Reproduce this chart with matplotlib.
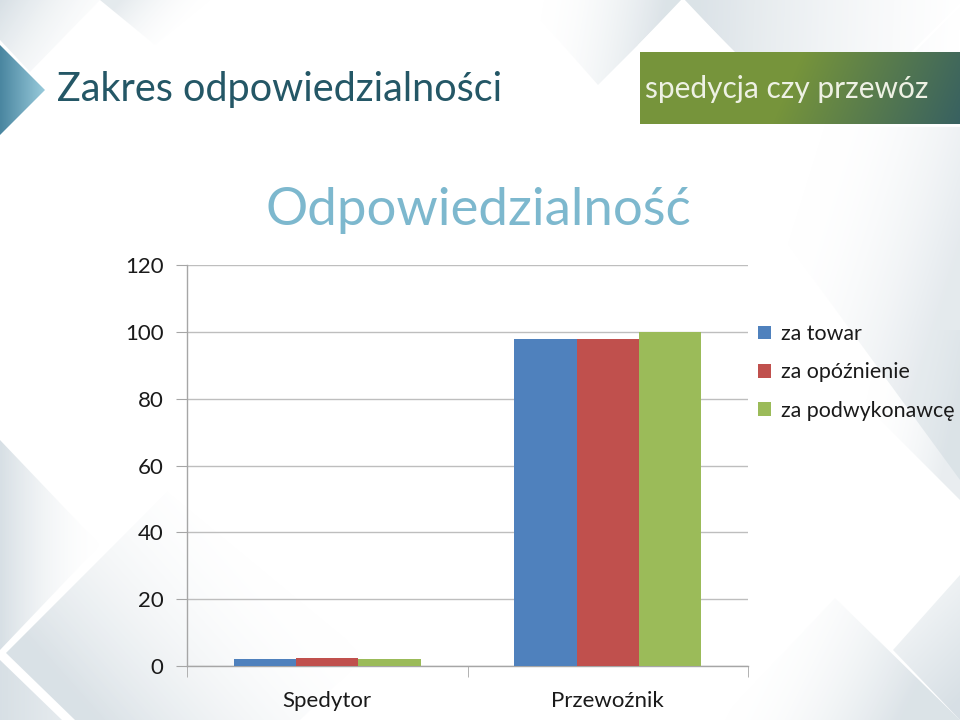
import numpy as np
import matplotlib
matplotlib.use('Agg')
import matplotlib.pyplot as plt
from matplotlib.patches import Polygon, Rectangle
from matplotlib.colors import to_rgba

# ---- data ----
categories = ['Spedytor', 'Przewoźnik']
series_names = ['za towar', 'za opóźnienie', 'za podwykonawcę']
za_towar = [2, 98]
za_opoznienie = [2.5, 98]
za_podwykonawce = [2, 100]
y_ticks = [0, 20, 40, 60, 80, 100, 120]
colors = ['#4F81BD', '#C0504D', '#9BBB59']

fig = plt.figure(figsize=(9.6, 7.2), dpi=100)
fig.patch.set_facecolor('white')
bg = fig.add_axes([0, 0, 1, 1])
bg.set_xlim(0, 960)
bg.set_ylim(720, 0)
bg.axis('off')


def grad_poly(verts, c0, c1, p0, p1, z=0):
    verts = np.asarray(verts, dtype=float)
    xmin, ymin = verts.min(axis=0)
    xmax, ymax = verts.max(axis=0)
    nx = max(int(xmax - xmin), 2)
    ny = max(int(ymax - ymin), 2)
    X, Y = np.meshgrid(np.linspace(xmin, xmax, nx), np.linspace(ymin, ymax, ny))
    dx, dy = p1[0] - p0[0], p1[1] - p0[1]
    t = ((X - p0[0]) * dx + (Y - p0[1]) * dy) / (dx * dx + dy * dy)
    t = np.clip(t, 0, 1)[..., None]
    a = np.array(to_rgba(c0[0], c0[1]))
    b = np.array(to_rgba(c1[0], c1[1]))
    img = a * (1 - t) + b * t
    im = bg.imshow(img, extent=[xmin, xmax, ymax, ymin], origin='upper',
                   interpolation='bilinear', zorder=z, aspect='auto')
    poly = Polygon(verts, closed=True, facecolor='none', edgecolor='none',
                   transform=bg.transData)
    bg.add_patch(poly)
    im.set_clip_path(poly)


G = '#D3DCE2'
W = '#FFFFFF'
# background shapes
grad_poly([(0, 0), (100, 0), (30, 72), (0, 40)], (G, 0.9), (W, 0.2), (0, 0), (90, 60))
grad_poly([(100, 0), (210, 0), (155, 45)], (G, 0.6), (W, 0.1), (120, 0), (170, 45))
grad_poly([(523, 0), (683, 0), (598, 85)], (W, 0.1), (G, 0.8), (540, 20), (660, 40))
grad_poly([(683, 0), (960, 0), (960, 52), (735, 52)], (G, 0.8), (W, 0.4), (700, 20), (960, 30))
grad_poly([(700, 124), (960, 124), (960, 480)], (W, 0.0), (G, 0.6), (800, 200), (960, 250))
grad_poly([(790, 330), (960, 330), (960, 500)], (W, 0.0), (G, 0.5), (870, 380), (960, 400))
grad_poly([(0, 440), (100, 545), (0, 650)], (G, 0.9), (W, 0.1), (0, 545), (100, 545))
grad_poly([(5, 652), (167, 490), (367, 655), (300, 720), (75, 720)], (G, 0.85), (W, 0.0),
          (80, 700), (260, 540))
grad_poly([(0, 660), (62, 720), (0, 720)], (G, 0.9), (G, 0.6), (0, 700), (60, 700))
grad_poly([(720, 720), (835, 598), (960, 720)], (W, 0.1), (G, 0.8), (760, 650), (900, 720))
grad_poly([(893, 650), (960, 575), (960, 720)], (G, 0.4), (G, 0.9), (900, 640), (960, 700))
for (x0, y0, x1, y1) in [(683, 0, 640, 45), (683, 0, 735, 55), (960, 5, 910, 55),
                         (5, 652, 167, 490), (167, 490, 367, 655)]:
    bg.plot([x0, x1], [y0, y1], color='white', lw=2, zorder=1)

# left accent triangle
grad_poly([(0, 45), (45, 90), (0, 135)], ('#4A86A0', 1), ('#98CADB', 1), (0, 90), (45, 90), z=2)

# green header box
grad_poly([(640, 52), (960, 52), (960, 124), (640, 124)], ('#76943B', 1), ('#2C5768', 1),
          (800, 60), (990, 140), z=2)
bg.plot([640, 960], [125, 125], color='white', lw=2, zorder=2)

bg.text(57, 90, 'Zakres odpowiedzialności', fontsize=28.5, color='#245766',
        va='center', ha='left', family='Lato', zorder=3)
bg.text(645, 89, 'spedycja czy przewóz', fontsize=21.5, color='#EEF1E4',
        va='center', ha='left', family='Lato', zorder=3)
bg.text(478, 210, 'Odpowiedzialność', fontsize=38, color='#7DB8CE',
        va='center', ha='center', family='Lato', zorder=3)

bg.set_xlim(0, 960)
bg.set_ylim(720, 0)

# ---- chart ----
ax = fig.add_axes([187 / 960, 54 / 720, 561 / 960, 401 / 720])
ax.patch.set_alpha(0)
x = np.arange(len(categories))
w = 0.222
series = [za_towar, za_opoznienie, za_podwykonawce]
handles = []
for i, vals in enumerate(series):
    ax.bar(x + (i - 1) * w, vals, w, color=colors[i], zorder=3, label=series_names[i])
    handles.append(Rectangle((0, 0), 1, 1, facecolor=colors[i]))

ax.set_xlim(-0.5, 1.5)
ax.set_ylim(0, 120)
ax.set_yticks(y_ticks)
ax.set_yticklabels([str(v) for v in y_ticks])
ax.yaxis.grid(True, color='#BEBEBE', lw=1, zorder=0)
ax.set_axisbelow(True)
for s in ['top', 'right']:
    ax.spines[s].set_visible(False)
for s in ['left', 'bottom']:
    ax.spines[s].set_color('#A6A6A6')
    ax.spines[s].set_linewidth(1)
ax.tick_params(axis='y', length=8, color='#A6A6A6', labelsize=16, pad=9,
               labelcolor='#1A1A1A')
ax.set_xticks(x)
ax.set_xticklabels(categories)
ax.set_xticks([-0.5, 0.5, 1.5], minor=True)
ax.tick_params(axis='x', which='major', length=0, labelsize=16, pad=18, labelcolor='#1A1A1A')
ax.tick_params(axis='x', which='minor', length=8, color='#A6A6A6')
for lab in ax.get_xticklabels() + ax.get_yticklabels():
    lab.set_family('Lato')

leg = fig.legend(handles, series_names, loc='upper left',
                 bbox_to_anchor=(758 / 960, 1 - 324 / 720), frameon=False,
                 prop={'family': 'Lato', 'size': 15.4}, handlelength=0.62, handleheight=0.62,
                 handletextpad=0.45, labelspacing=0.86, borderpad=0, borderaxespad=0)
for t in leg.get_texts():
    t.set_color('#1A1A1A')

fig.savefig('out.png', dpi=100)
